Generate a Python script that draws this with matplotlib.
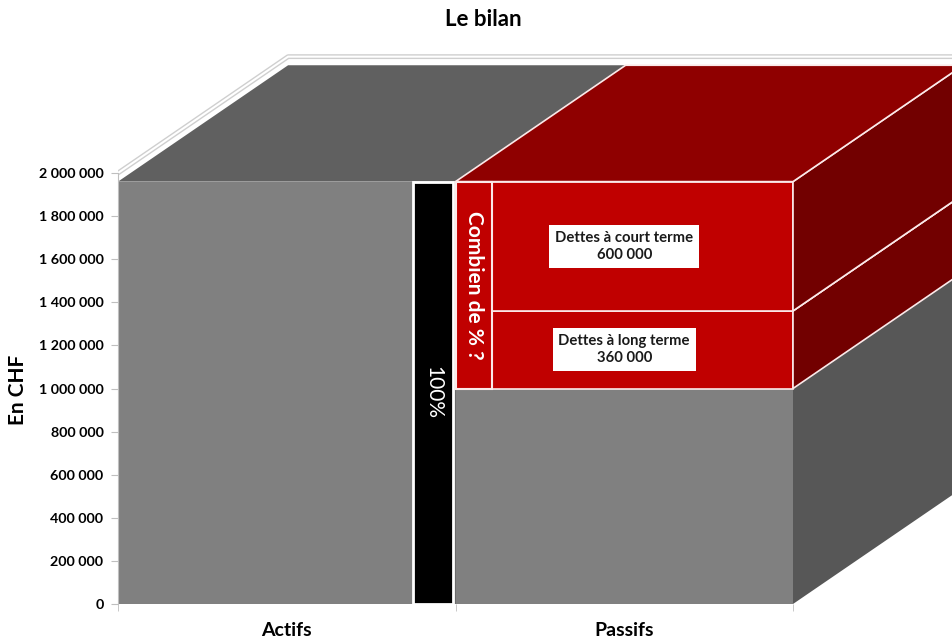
import matplotlib
matplotlib.use('Agg')
import matplotlib.pyplot as plt
from matplotlib.patches import Polygon, Rectangle
from matplotlib.ticker import FuncFormatter

plt.rcParams['font.family'] = ['Lato', 'DejaVu Sans']

# ---- data ----
categories = ['Actifs', 'Passifs']
actifs = [1960000]
passifs_names = ['Fonds propres', 'Dettes à long terme', 'Dettes à court terme']
passifs = [1000000, 360000, 600000]
yticks = [0, 200000, 400000, 600000, 800000, 1000000, 1200000, 1400000, 1600000, 1800000, 2000000]

# colours: (front, top, side)
GRAY = ('#808080', '#606060', '#575757')
RED = ('#c00000', '#8f0000', '#720000')
seg_colors = [GRAY, RED, RED]
DX, DY = 0.504, 540000   # depth of the 3d bars (x units, CHF)


def fmt(v):
    return '{:,}'.format(int(v)).replace(',', ' ')


fig = plt.figure(figsize=(9.53, 6.41), dpi=100)
ax = fig.add_axes([118/953, 37/641, 835/953, 604/641])
ax.set_xlim(-0.5, -0.5 + 835/337.5)
ax.set_ylim(0, 604/431*2000000)
ymax = yticks[-1]

# back wall outline
xr = ax.get_xlim()[1]
ax.plot([-0.5, -0.5+DX, xr], [ymax, ymax+DY, ymax+DY], color='#cfcfcf', lw=3.5, zorder=1, solid_capstyle='butt')
ax.plot([-0.5, -0.5+DX, xr], [ymax, ymax+DY, ymax+DY], color='white', lw=1.5, zorder=1)


def block(x, b, h, cols, edge):
    x0, x1 = x-0.5, x+0.5
    t = b+h
    ax.bar(x, h, bottom=b, width=1, color=cols[0], edgecolor=edge, lw=1.2, zorder=2)
    ax.add_patch(Polygon([(x1, b), (x1, t), (x1+DX, t+DY), (x1+DX, b+DY)],
                         fc=cols[2], ec=edge, lw=1.2, zorder=2))
    ax.add_patch(Polygon([(x0, t), (x1, t), (x1+DX, t+DY), (x0+DX, t+DY)],
                         fc=cols[1], ec=edge, lw=1.2, zorder=2))


block(0, 0, actifs[0], GRAY, 'none')
bottom = 0
for val, cols in zip(passifs, seg_colors):
    block(1, bottom, val, cols, 'none' if cols is GRAY else '#fbe9e9')
    bottom += val

# value labels on the debts
bottom = passifs[0]
for name, val in zip(passifs_names[1:], passifs[1:]):
    ax.text(1.0, bottom + val/2, name + '\n' + fmt(val), ha='center', va='center',
            fontsize=10.7, fontweight='bold', color='#1a1a1a', zorder=6, linespacing=1.3,
            bbox=dict(boxstyle='square,pad=0.4', fc='white', ec='none'))
    bottom += val

# 100% marker next to the assets
ax.add_patch(Rectangle((0.374, 0), 0.119, actifs[0], fc='black', ec='white', lw=2, zorder=5))
ax.text(0.434, actifs[0]/2, '100%', rotation=-90, ha='center', va='center',
        color='white', fontsize=15, zorder=6)

# debt share box
debts = passifs[1] + passifs[2]
ax.add_patch(Rectangle((0.5, passifs[0]), 0.108, debts, fc='#c00000', ec='#fbe9e9', lw=1.5, zorder=5))
ax.text(0.554, passifs[0] + debts/2, 'Combien de % ?', rotation=-90, ha='center', va='center',
        color='white', fontsize=15, fontweight='bold', zorder=6)

# axes
ax.set_yticks(yticks)
ax.yaxis.set_major_formatter(FuncFormatter(lambda v, p: fmt(v)))
ax.tick_params(axis='y', length=5, color='#bfbfbf', labelsize=10.3, pad=5.5)
for lab in ax.get_yticklabels():
    lab.set_fontweight('bold')
ax.set_xticks([0, 1], categories)
ax.set_xticks([-0.5, 0.5, 1.5], minor=True)
ax.tick_params(axis='x', which='major', length=0, labelsize=14, pad=13)
ax.tick_params(axis='x', which='minor', length=5, color='#bfbfbf')
for lab in ax.get_xticklabels():
    lab.set_fontweight('bold')
for s in ['top', 'right', 'bottom']:
    ax.spines[s].set_visible(False)
ax.spines['left'].set_bounds(0, ymax)
ax.spines['left'].set_color('#bfbfbf')

fig.text(483/953, 1-20/641, 'Le bilan', ha='center', va='center', fontsize=16, fontweight='bold')
fig.text(18/953, 1-390/641, 'En CHF', rotation=90, ha='center', va='center', fontsize=15, fontweight='bold')

fig.savefig('out.png', dpi=100)
